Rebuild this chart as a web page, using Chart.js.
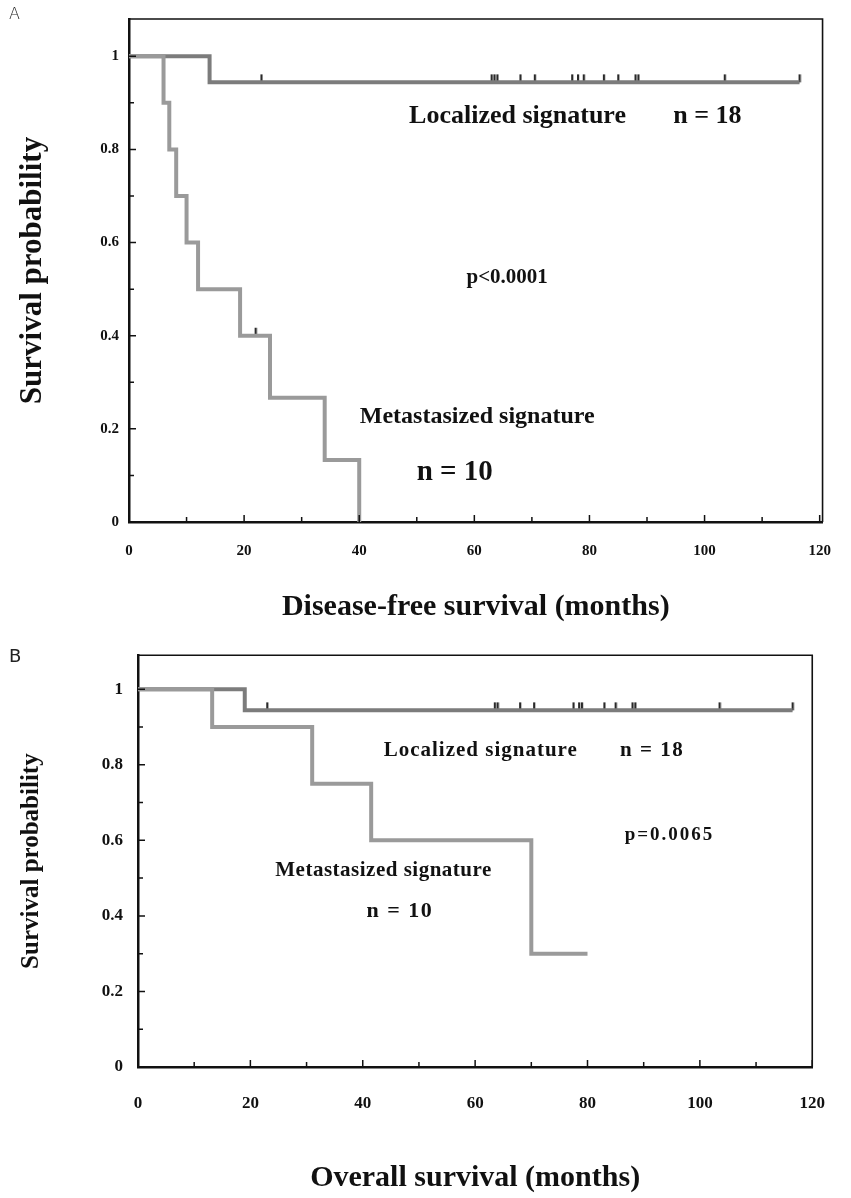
<!DOCTYPE html>
<html><head><meta charset="utf-8">
<script src="https://cdn.jsdelivr.net/npm/chart.js@4.4.1/dist/chart.umd.min.js"></script>
<style>
html,body{margin:0;padding:0;background:#fff;width:851px;height:1198px;overflow:hidden;}
#wrapA{position:absolute;left:0;top:0;width:851px;height:630px;}
#wrapB{position:absolute;left:0;top:630px;width:851px;height:568px;}
.lbl{position:absolute;font-family:'DejaVu Sans',sans-serif;color:#222;}
</style></head><body>
<div id="wrapA"><canvas id="cA" width="851" height="630"></canvas></div>
<div id="wrapB"><canvas id="cB" width="851" height="568"></canvas></div>
<div class="lbl" style="left:9px;top:4px;font-size:16px;font-weight:200">A</div>
<div class="lbl" style="left:9px;top:645px;font-size:18px">B</div>
<script>
// ---- data ----
const dfsLocTime = [0, 14, 116.5];
const dfsLocSurv = [1, 0.944, 0.944];
const dfsLocCensor = [23, 63, 63.5, 64, 68, 70.5, 77, 78, 79, 82.5, 85, 88, 88.5, 103.5, 116.5];
const dfsMetTime = [0, 6, 7, 8.2, 10, 12, 19.3, 24.5, 34, 40];
const dfsMetSurv = [1, 0.9, 0.8, 0.7, 0.6, 0.5, 0.4, 0.267, 0.133, 0];
const dfsMetCensor = [22];
const osLocTime = [0, 19, 116.5];
const osLocSurv = [1, 0.944, 0.944];
const osLocCensor = [23, 63.5, 64, 68, 70.5, 77.5, 78.5, 79, 83, 85, 88, 88.5, 103.5, 116.5];
const osMetTime = [0, 13.2, 31, 41.5, 70, 80];
const osMetSurv = [1, 0.9, 0.75, 0.6, 0.3, 0.3];
const xTickLabels = [0, 20, 40, 60, 80, 100, 120];
const yTickLabels = [0, 0.2, 0.4, 0.6, 0.8, 1];

function pts(t, s){ return t.map((v,i)=>({x:v, y:s[i]})); }
function survAt(t, s, time){ let v = s[0]; for (let i=0;i<t.length;i++){ if (t[i] <= time) v = s[i]; } return v; }
function censorPts(times, t, s){ return times.map(c=>({x:c, y:survAt(t,s,c)})); }

// small upward tick used as censor mark
const tickImg = (()=>{ const c=document.createElement('canvas'); c.width=4; c.height=18; const g=c.getContext('2d'); g.fillStyle='#2a2a2a'; g.fillRect(1,1,2.2,8); return c; })();

const overlay = {
  id:'overlay',
  afterDatasetsDraw(chart, args, o){
    const {ctx, chartArea:a, scales:{x, y}} = chart;
    ctx.save();
    ctx.strokeStyle = '#111';
    ctx.lineWidth = 1.6;
    ctx.beginPath();
    ctx.moveTo(a.left, a.top); ctx.lineTo(a.right, a.top); ctx.lineTo(a.right, a.bottom);
    ctx.stroke();
    ctx.lineWidth = 1.5;
    ctx.beginPath();
    for (let i=0;i<=12;i++){ const px = x.getPixelForValue(i*10); ctx.moveTo(px, a.bottom); ctx.lineTo(px, a.bottom - (i%2===0 ? 7 : 5)); }
    for (let i=0;i<=10;i++){ const py = y.getPixelForValue(i/10); ctx.moveTo(a.left, py); ctx.lineTo(a.left + (i%2===0 ? 7 : 5), py); }
    ctx.stroke();
    ctx.fillStyle = '#111';
    ctx.textAlign = 'center';
    ctx.textBaseline = 'middle';
    o.notes.forEach(n=>{
      ctx.font = n.font;
      if ('letterSpacing' in ctx) ctx.letterSpacing = (n.ls||0) + 'px';
      ctx.fillText(n.text, x.getPixelForValue(n.x), y.getPixelForValue(n.y));
    });
    if ('letterSpacing' in ctx) ctx.letterSpacing = '0px';
    ctx.restore();
  }
};

function lineDs(data, color){
  return {type:'line', data, stepped:true, borderColor:color, borderWidth:4, pointRadius:0, fill:false, tension:0};
}
function censorDs(data){
  return {type:'scatter', data, pointStyle:tickImg, pointRadius:5, showLine:false};
}

function makeChart(id, c){
  return new Chart(document.getElementById(id), {
    type:'line',
    data:{datasets:c.datasets},
    options:{
      responsive:false, animation:false, events:[],
      layout:{padding:{left:0, right:c.padRight, top:c.padTop, bottom:0}},
      plugins:{legend:{display:false}, tooltip:{enabled:false}, overlay:{notes:c.notes}},
      scales:{
        x:{type:'linear', min:0, max:c.xMax,
          afterBuildTicks:s=>{ s.ticks = xTickLabels.map(v=>({value:v})); },
          afterFit:s=>{ s.height = c.xHeight; },
          grid:{display:false, drawTicks:false},
          border:{display:true, color:'#111', width:2.5},
          ticks:{autoSkip:false, maxRotation:0, padding:c.xPad, color:'#111', font:{family:'Liberation Serif', weight:'bold', size:c.tickSize}},
          title:{display:true, text:c.xTitle, color:'#111', padding:{top:0,bottom:c.xTitlePad}, font:{family:'Liberation Serif', weight:'bold', size:c.xTitleSize, lineHeight:1.2}}
        },
        y:{type:'linear', min:0, max:c.yMax,
          afterBuildTicks:s=>{ s.ticks = yTickLabels.map(v=>({value:v})); },
          afterFit:s=>{ s.width = c.yWidth; },
          grid:{display:false, drawTicks:false},
          border:{display:true, color:'#111', width:2.5},
          ticks:{padding:c.yPad, color:'#111', font:{family:'Liberation Serif', weight:'bold', size:c.tickSize}, callback:v=>String(v)},
          title:{display:true, text:'Survival probability', color:'#111', padding:{top:c.yTitlePad,bottom:0}, font:{family:'Liberation Serif', weight:'bold', size:c.yTitleSize, lineHeight:1.2}}
        }
      }
    },
    plugins:[overlay]
  });
}

makeChart('cA', {
  xMax:120.5, yMax:1.08, padRight:18, padTop:17, xHeight:108, yWidth:129, xPad:20, yPad:10, tickSize:15,
  xTitle:'Disease-free survival (months)', xTitleSize:30, xTitlePad:5, yTitleSize:31, yTitlePad:14,
  datasets:[
    lineDs(pts(dfsMetTime, dfsMetSurv), '#9a9a9a'),
    lineDs(pts(dfsLocTime, dfsLocSurv), '#7c7c7c'),
    censorDs(censorPts(dfsLocCensor, dfsLocTime, dfsLocSurv)),
    censorDs(censorPts(dfsMetCensor, dfsMetTime, dfsMetSurv))
  ],
  notes:[
    {text:'Localized signature', x:67.5, y:0.872, font:'bold 26px "Liberation Serif"'},
    {text:'n = 18', x:100.5, y:0.872, font:'bold 26px "Liberation Serif"'},
    {text:'p<0.0001', x:65.7, y:0.525, font:'bold 21px "Liberation Serif"'},
    {text:'Metastasized signature', x:60.5, y:0.225, font:'bold 24px "Liberation Serif"'},
    {text:'n = 10', x:56.6, y:0.107, font:'bold 29px "Liberation Serif"'}
  ]
});

makeChart('cB', {
  xMax:120, yMax:1.09, padRight:13, padTop:21, xHeight:131, yWidth:138, xPad:26, yPad:15, tickSize:17,
  xTitle:'Overall survival (months)', xTitleSize:30, xTitlePad:2, yTitleSize:25, yTitlePad:17,
  datasets:[
    lineDs(pts(osMetTime, osMetSurv), '#9a9a9a'),
    lineDs(pts(osLocTime, osLocSurv), '#7c7c7c'),
    censorDs(censorPts(osLocCensor, osLocTime, osLocSurv))
  ],
  notes:[
    {text:'Localized signature', x:61, y:0.837, font:'bold 21px "Liberation Serif"', ls:1},
    {text:'n = 18', x:91.5, y:0.837, font:'bold 21px "Liberation Serif"', ls:1.5},
    {text:'p=0.0065', x:94.6, y:0.615, font:'bold 19px "Liberation Serif"', ls:2},
    {text:'Metastasized signature', x:43.7, y:0.52, font:'bold 21px "Liberation Serif"', ls:0.5},
    {text:'n = 10', x:46.6, y:0.413, font:'bold 22px "Liberation Serif"', ls:1.5}
  ]
});
</script>
</body></html>
